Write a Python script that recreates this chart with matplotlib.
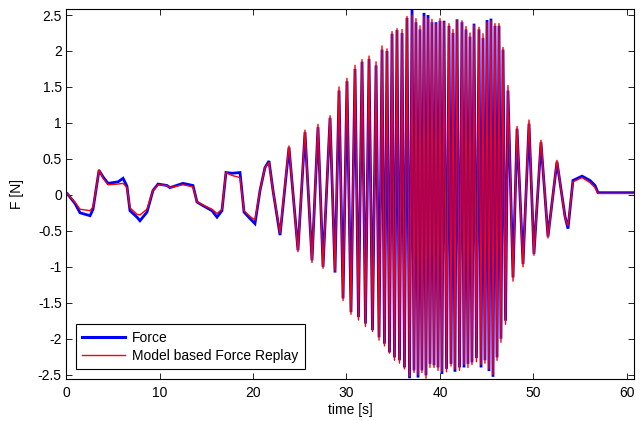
import matplotlib
matplotlib.use("Agg")
import matplotlib.pyplot as plt
from matplotlib.ticker import MultipleLocator, FormatStrFormatter

# ---- data (turning points of the signals) ----
time_s = [
    0.0, 0.11, 0.96, 1.5, 2.57, 2.89, 3.32, 3.53, 3.96, 4.49, 5.56, 6.1, 6.52, 6.84,
    7.59, 7.91, 8.66, 9.3, 9.84, 10.8, 11.12, 12.51, 13.58, 14.01, 14.65, 15.61,
    16.15, 16.68, 17.11, 17.75, 18.61, 19.04, 19.68, 20.21, 20.75, 21.28, 21.71,
    22.14, 22.89, 23.85, 24.81, 25.56, 26.31, 26.95, 27.49, 28.24, 28.77,
    29.2, 29.63, 30.05, 30.48, 30.91, 31.28, 31.66, 32.03, 32.41, 32.78, 33.16,
    33.48, 33.8, 34.06, 34.33, 34.6, 34.87, 35.13, 35.4, 35.67, 35.94, 36.2, 36.47,
    36.74, 37.01, 37.22, 37.43, 37.65, 37.86, 38.07, 38.29, 38.5, 38.72, 38.93,
    39.14, 39.36, 39.57, 39.79, 40.0, 40.21, 40.43, 40.7, 40.96, 41.18, 41.39,
    41.6, 41.82, 42.09, 42.35, 42.57, 42.78, 42.99, 43.21, 43.42, 43.64, 43.9,
    44.17, 44.39, 44.6, 44.81, 45.03, 45.24, 45.45, 45.67, 45.88, 46.1, 46.31,
    46.52, 46.74, 47.01, 47.27, 47.81, 48.24, 48.88, 49.52, 50.05, 50.8, 51.55,
    52.51, 53.37, 53.69, 54.22, 55.19, 56.04, 56.58, 56.9, 60.8,
]

force = [
    0.03, 0.02, -0.12, -0.25, -0.29, -0.2, 0.16, 0.34, 0.25, 0.16, 0.18, 0.23, 0.12, -0.22,
    -0.31, -0.36, -0.24, 0.06, 0.15, 0.13, 0.1, 0.16, 0.13, -0.1, -0.15, -0.22,
    -0.31, -0.22, 0.31, 0.3, 0.31, -0.24, -0.33, -0.4, 0.06, 0.38, 0.47,
    0.06, -0.56, 0.66, -0.77, 0.87, -0.91, 0.94, -1.0, 1.07, -1.08,
    1.45, -1.44, 1.58, -1.63, 1.75, -1.7, 1.85, -1.79, 1.89, -1.88, 1.8,
    -1.98, 2.02, -2.07, 2.0, -2.19, 2.24, -2.26, 2.29, -2.3, 2.25, -2.4, 2.46,
    -2.55, 2.57, -2.44, 2.4, -2.54, 2.3, -2.44, 2.53, -2.51, 2.5, -2.35,
    2.4, -2.37, 2.4, -2.4, 2.42, -2.49, 2.42, -2.42, 2.35, -2.35, 2.25,
    -2.46, 2.44, -2.4, 2.4, -2.4, 2.3, -2.35, 2.2, -2.33, 2.38, -2.27,
    2.3, -2.4, 2.18, -2.3, 2.43, -2.45, 2.45, -2.53, 2.35, -2.26, 2.35,
    -2.0, 2.02, -1.75, 1.45, -1.15, 0.92, -0.96, 0.99, -0.82, 0.73, -0.58,
    0.46, -0.3, -0.47, 0.2, 0.26, 0.2, 0.13, 0.03, 0.03,
]

replay = [
    0.03, 0.02, -0.1, -0.2, -0.22, -0.17, 0.16, 0.35, 0.23, 0.14, 0.15, 0.16, 0.1, -0.18,
    -0.27, -0.28, -0.2, 0.06, 0.14, 0.13, 0.1, 0.14, 0.11, -0.1, -0.14, -0.2,
    -0.26, -0.2, 0.31, 0.27, 0.24, -0.22, -0.3, -0.35, 0.06, 0.38, 0.45,
    0.06, -0.53, 0.68, -0.79, 0.9, -0.94, 0.98, -1.02, 1.1, -1.06,
    1.5, -1.47, 1.62, -1.66, 1.8, -1.74, 1.88, -1.83, 1.93, -1.9, 1.85,
    -2.02, 2.07, -2.1, 2.03, -2.2, 2.27, -2.3, 2.31, -2.34, 2.3, -2.42, 2.48,
    -2.52, 2.5, -2.47, 2.45, -2.5, 2.35, -2.47, 2.48, -2.55, 2.45, -2.4,
    2.44, -2.4, 2.38, -2.44, 2.45, -2.45, 2.4, -2.46, 2.38, -2.38, 2.3,
    -2.42, 2.42, -2.44, 2.42, -2.36, 2.34, -2.4, 2.25, -2.36, 2.36, -2.32,
    2.33, -2.36, 2.24, -2.34, 2.4, -2.42, 2.42, -2.5, 2.38, -2.3, 2.38,
    -2.05, 2.05, -1.8, 1.52, -1.2, 0.95, -1.0, 1.04, -0.84, 0.76, -0.6,
    0.48, -0.32, -0.43, 0.18, 0.24, 0.17, 0.1, 0.02, 0.02,
]

x_ticks = [0, 10, 20, 30, 40, 50, 60]
y_ticks = [-2.5, -2, -1.5, -1, -0.5, 0, 0.5, 1, 1.5, 2, 2.5]

# ---- figure ----
plt.rcParams['font.family'] = ['Liberation Sans', 'DejaVu Sans']
plt.rcParams['axes.unicode_minus'] = False

fig = plt.figure(figsize=(6.44, 4.21), dpi=100)
ax = fig.add_axes([0.1025, 0.0998, 0.8827, 0.8782])

ax.plot(time_s, force, color=(0, 0, 1), lw=2.0, label='Force', solid_joinstyle='miter')
ax.plot(time_s, replay, color=(1, 0, 0), lw=1.0, label='Model based Force Replay')

ax.set_xlim(0, 60.8)
ax.set_ylim(-2.56, 2.58)
ax.set_xticks(x_ticks)
ax.set_yticks(y_ticks)
ax.set_xticklabels([str(v) for v in x_ticks])
ax.set_yticklabels([('%g' % v) for v in y_ticks])

ax.tick_params(direction='in', length=4, width=0.6, top=True, right=True,
               labelsize=10, colors='black')
ax.tick_params(axis='x', pad=5)
ax.tick_params(axis='y', pad=3)
for s in ax.spines.values():
    s.set_linewidth(0.8)

ax.set_xlabel('time [s]', fontsize=10, labelpad=2)
ax.set_ylabel('F [N]', fontsize=10, labelpad=10)

leg = ax.legend(loc='lower left', bbox_to_anchor=(0.0176, 0.027), borderaxespad=0,
                fontsize=10, fancybox=False, framealpha=1, edgecolor='black',
                handlelength=3.1, handletextpad=0.5, borderpad=0.45, labelspacing=0.3)
leg.get_frame().set_linewidth(0.8)
leg.legend_handles[0].set_linewidth(2.2)

fig.savefig('out.png', dpi=100)
